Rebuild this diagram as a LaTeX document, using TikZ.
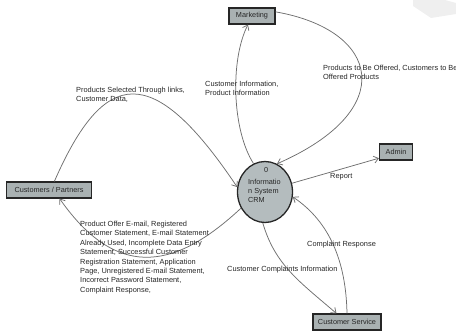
\documentclass[tikz,border=0pt]{standalone}
\usepackage{fontspec}
\setmainfont{Liberation Sans}
\usetikzlibrary{arrows.meta,shapes.geometric}
\definecolor{BoxFill}{HTML}{A9B1B2}
\definecolor{CrmFill}{HTML}{B4BCBE}
\definecolor{FrameDark}{HTML}{262626}
\definecolor{FlowLine}{HTML}{6F6F6F}
\definecolor{FlowText}{HTML}{262626}
\definecolor{Ghost}{HTML}{EFEFEF}

\begin{document}
\begin{tikzpicture}[x=1pt,y=-1pt,
    entity/.style={draw=FrameDark, line width=1.1pt, fill=BoxFill, minimum height=16pt,
      inner sep=1pt, font=\fontsize{7.3}{8}\selectfont, text=FlowText},
    flow/.style={draw=FlowLine, line width=0.75pt, -{Straight Barb[length=4.5pt,width=7pt]}},
    flowlabel/.style={anchor=north west, inner sep=0pt, align=left,
      font=\fontsize{7.4}{9.4}\selectfont, text=FlowText}]
    \useasboundingbox (0,0) rectangle (456,331);
    % faint shape in the corner
    \fill[Ghost] (413,0) -- (413,6) -- (431,18) -- (456,14) -- (456,3) -- (445,0) -- cycle;

    % external entities
    \node[entity, minimum width=46pt] (mk) at (252,16) {Marketing};
    \node[entity, minimum width=33pt] (ad) at (396,152) {Admin};
    \node[entity, minimum width=68pt] (cs) at (347,322) {Customer Service};
    \node[entity, minimum width=85pt] (cp) at (49,190) {Customers / Partners};

    % process
    \node[ellipse, draw=FrameDark, line width=1.3pt, fill=CrmFill,
      minimum width=55pt, minimum height=61pt, inner sep=0pt] (crm) at (265,192) {};
    \node[anchor=north west, inner sep=0pt, align=left,
      font=\fontsize{7.3}{9}\selectfont, text=FlowText] (crmtext) at (248,167)
      {\hspace*{16pt}0\\[3pt]Informatio\\n System\\CRM};

    % data flows
    \draw[flow] (cp.58) .. controls (104,68) and (152,60) .. (crm.170);
    \draw[flow] (crm.112) .. controls (232,130) and (230,60) .. (mk.245);
    \draw[flow] (mk.10) .. controls (380,30) and (400,110) .. (crm.67);
    \draw[flow] (crm.18) -- (ad.200);
    \draw[flow] (crm.266) .. controls (275,265) and (300,282) .. (cs.141);
    \draw[flow] (cs.north) .. controls (346,262) and (330,222) .. (crm.350);
    \draw[flow] (crm.214) .. controls (180,265) and (120,285) .. (cp.321);

    % flow labels
    \node[flowlabel] (l1) at (76,87) {Products Selected Through links,\\Customer Data,};
    \node[flowlabel] (l2) at (205,81) {Customer Information,\\Product Information};
    \node[flowlabel] (l3) at (323,65) {Products to Be Offered, Customers to Be\\Offered Products};
    \node[flowlabel] (l4) at (330,173) {Report};
    \node[flowlabel] (l5) at (307,241) {Complaint Response};
    \node[flowlabel] (l6) at (227,266) {Customer Complaints Information};
    \node[flowlabel] (l7) at (80,221) {Product Offer E-mail, Registered\\
      Customer Statement, E-mail Statement\\
      Already Used, Incomplete Data Entry\\
      Statement, Successful Customer\\
      Registration Statement, Application\\
      Page, Unregistered E-mail Statement,\\
      Incorrect Password Statement,\\
      Complaint Response,};
\end{tikzpicture}
\end{document}
